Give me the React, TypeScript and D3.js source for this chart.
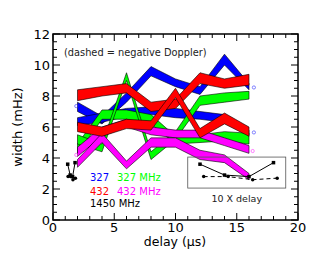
import { useEffect, useRef } from "react"
import * as d3 from "d3"

// delays (us) at which the bands are sampled
const delays = [2, 4, 6, 8, 10, 12, 14, 16]

// 327 MHz (blue)
const blueALo = [7.0, 6.2, 7.6, 9.3, 8.6, 8.1, 10.0, 8.4]
const blueAHi = [7.6, 6.7, 8.2, 9.9, 9.1, 8.6, 10.7, 8.8]
const blueBLo = [6.1, 6.3, 6.7, 6.8, 6.6, 6.5, 6.3, 5.5]
const blueBHi = [6.6, 6.9, 7.2, 7.3, 7.2, 7.0, 6.8, 5.8]
// 327 MHz (green)
const greenALo = [4.3, 6.5, 6.5, 6.2, 4.9, 5.0, 5.1, 4.9]
const greenAHi = [4.9, 7.1, 7.1, 6.8, 5.4, 5.5, 5.7, 5.6]
const greenBLo = [4.9, 4.4, 9.0, 3.9, 5.2, 7.4, 7.6, 7.8]
const greenBHi = [5.5, 4.9, 9.5, 4.4, 5.7, 8.0, 8.2, 8.3]
// 432 MHz (magenta)
const magALo = [4.1, 5.4, 6.0, 5.5, 5.3, 5.3, 4.8, 4.3]
const magAHi = [4.7, 6.0, 6.5, 6.0, 5.8, 5.8, 5.3, 4.8]
const magBLo = [3.4, 5.0, 3.3, 4.7, 4.7, 3.9, 3.7, 2.6]
const magBHi = [3.9, 5.6, 3.8, 5.3, 5.3, 4.5, 4.2, 3.0]
// 432 MHz (red)
const redALo = [7.7, 8.0, 8.2, 7.0, 7.2, 8.8, 8.5, 8.7]
const redAHi = [8.4, 8.6, 8.8, 7.6, 7.8, 9.5, 9.1, 9.4]
const redBLo = [5.7, 5.4, 5.9, 5.8, 7.9, 5.3, 6.2, 5.4]
const redBHi = [6.3, 6.0, 6.5, 6.4, 8.5, 5.9, 6.9, 6.0]

// 1450 MHz
const l1450X = [1.2, 1.4, 1.6, 1.8]
const l1450Y = [3.6, 2.9, 2.8, 3.7]
const l1450NegX = [1.23, 1.43, 1.63, 1.83]
const l1450NegY = [2.8, 2.8, 2.6, 2.7]

// small end markers
const endMarkX = [1.9, 16.4, 16.4, 1.9, 16.3]
const endMarkY = [7.35, 8.55, 5.65, 4.2, 4.45]
const endMarkColor = ["#3333ff", "#3333ff", "#3333ff", "#ff33ff", "#ff33ff"]

const xTicks = [0, 5, 10, 15, 20]
const yTicks = [0, 2, 4, 6, 8, 10, 12]

export default function App() {
  const ref = useRef<SVGSVGElement>(null)

  useEffect(() => {
    if (!ref.current) return
    const svg = d3.select(ref.current)
    svg.selectAll("*").remove()
    svg.style("font-family", "'DejaVu Sans', sans-serif")

    const x = d3.scaleLinear().domain([0, 20]).range([53, 298])
    const y = d3.scaleLinear().domain([0, 12]).range([220, 34])

    const area = d3
      .area<number>()
      .x((_, i) => x(delays[i]))

    const bands: [number[], number[], string][] = [
      [blueALo, blueAHi, "#0000ff"],
      [blueBLo, blueBHi, "#0000ff"],
      [greenALo, greenAHi, "#00ff00"],
      [greenBLo, greenBHi, "#00ff00"],
      [magALo, magAHi, "#ff00ff"],
      [magBLo, magBHi, "#ff00ff"],
      [redALo, redAHi, "#ff0000"],
      [redBLo, redBHi, "#ff0000"],
    ]

    bands.forEach(([lo, hi, color]) => {
      svg
        .append("path")
        .attr(
          "d",
          area.y0((_, i) => y(lo[i])).y1((_, i) => y(hi[i]))(delays)
        )
        .attr("fill", color)
        .attr("stroke", "#000")
        .attr("stroke-width", 0.6)
    })

    endMarkX.forEach((v, i) => {
      svg
        .append("circle")
        .attr("cx", x(v))
        .attr("cy", y(endMarkY[i]))
        .attr("r", 1.6)
        .attr("fill", "none")
        .attr("stroke", endMarkColor[i])
        .attr("stroke-width", 0.6)
    })

    // 1450 MHz points, drawn at true delay and at 10x in the inset
    const drawPts = (xs: number[], ys: number[], k: number, dashed: boolean, size: number) => {
      const line = d3
        .line<number>()
        .x((d) => x(d * k))
        .y((_, i) => y(ys[i]))
      svg
        .append("path")
        .attr("d", line(xs))
        .attr("fill", "none")
        .attr("stroke", "#000")
        .attr("stroke-width", 1)
        .attr("stroke-dasharray", dashed ? "4 3" : null)
      xs.forEach((v, i) => {
        if (dashed) {
          svg
            .append("circle")
            .attr("cx", x(v * k))
            .attr("cy", y(ys[i]))
            .attr("r", size / 2)
            .attr("fill", "#000")
        } else {
          svg
            .append("rect")
            .attr("x", x(v * k) - size / 2)
            .attr("y", y(ys[i]) - size / 2)
            .attr("width", size)
            .attr("height", size)
            .attr("fill", "#000")
        }
      })
    }
    drawPts(l1450X, l1450Y, 1, false, 3.5)
    drawPts(l1450NegX, l1450NegY, 1, true, 3.5)

    // inset box
    svg
      .append("rect")
      .attr("x", x(11))
      .attr("y", y(4.06))
      .attr("width", x(19) - x(11))
      .attr("height", y(2.06) - y(4.06))
      .attr("fill", "none")
      .attr("stroke", "#555")
      .attr("stroke-width", 0.8)
    drawPts(l1450X, l1450Y, 10, false, 3.5)
    drawPts(l1450NegX, l1450NegY, 10, true, 3.5)
    svg
      .append("text")
      .attr("x", x(15))
      .attr("y", 202)
      .attr("text-anchor", "middle")
      .style("font-size", "9.5px")
      .attr("fill", "#222")
      .text("10 X delay")

    // frame
    svg
      .append("rect")
      .attr("x", 53)
      .attr("y", 34)
      .attr("width", 245)
      .attr("height", 186)
      .attr("fill", "none")
      .attr("stroke", "#000")
      .attr("stroke-width", 1.5)

    // ticks on all four sides, pointing inward
    const g = svg.append("g").attr("stroke", "#000").attr("stroke-width", 1)
    d3.range(0, 20.001, 1).forEach((v) => {
      const major = v % 5 === 0
      const len = major ? 7 : 4
      g.append("line").attr("x1", x(v)).attr("x2", x(v)).attr("y1", 220).attr("y2", 220 - len)
      g.append("line").attr("x1", x(v)).attr("x2", x(v)).attr("y1", 34).attr("y2", 34 + len)
    })
    d3.range(0, 12.001, 0.5).forEach((v) => {
      const major = Math.abs(v % 2) < 1e-6
      const len = major ? 7 : 4
      g.append("line").attr("y1", y(v)).attr("y2", y(v)).attr("x1", 53).attr("x2", 53 + len)
      g.append("line").attr("y1", y(v)).attr("y2", y(v)).attr("x1", 298).attr("x2", 298 - len)
    })

    xTicks.forEach((v) => {
      svg
        .append("text")
        .attr("x", x(v))
        .attr("y", 232)
        .attr("text-anchor", "middle")
        .style("font-size", "13px")
        .text(v)
    })
    yTicks.forEach((v) => {
      svg
        .append("text")
        .attr("x", 50)
        .attr("y", y(v) + 5)
        .attr("text-anchor", "end")
        .style("font-size", "13px")
        .text(v)
    })

    svg
      .append("text")
      .attr("x", 175)
      .attr("y", 246)
      .attr("text-anchor", "middle")
      .style("font-size", "12.5px")
      .text("delay (μs)")
    svg
      .append("text")
      .attr("transform", "translate(22,127) rotate(-90)")
      .attr("text-anchor", "middle")
      .style("font-size", "13px")
      .text("width (mHz)")

    svg
      .append("text")
      .attr("x", 64)
      .attr("y", 56)
      .style("font-size", "9.8px")
      .attr("fill", "#222")
      .text("(dashed = negative Doppler)")

    const legend: [string, string, number, number][] = [
      ["327", "#0000ff", 90, 181],
      ["327 MHz", "#00ff00", 117, 181],
      ["432", "#ff0000", 90, 195],
      ["432 MHz", "#ff00ff", 117, 195],
      ["1450 MHz", "#000", 90, 207],
    ]
    legend.forEach(([t, c, lx, ly]) => {
      svg
        .append("text")
        .attr("x", lx)
        .attr("y", ly)
        .style("font-size", "10px")
        .attr("fill", c)
        .text(t)
    })
  }, [])

  return (
    <div style={{ position: "fixed", left: 0, top: 0 }}>
      <svg ref={ref} width={324} height={259} style={{ display: "block", background: "#fff" }} />
    </div>
  )
}
